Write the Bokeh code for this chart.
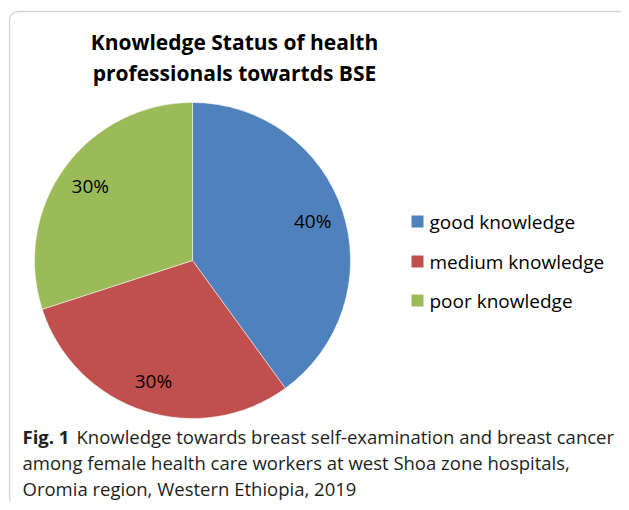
import math
from bokeh.plotting import figure
from bokeh.models import Range1d, BoxAnnotation, ColumnDataSource
from bokeh.core.properties import value
from bokeh.embed import file_html
from bokeh.resources import INLINE

# ---- data ----
categories = ["good knowledge", "medium knowledge", "poor knowledge"]
shares = [40, 30, 30]
colors = ["#4F81BD", "#C0504D", "#9BBB59"]
title_lines = ["Knowledge Status of health", "professionals towartds BSE"]
caption_bold = "Fig. 1"
caption_lines = ["Knowledge towards breast self-examination and breast cancer",
                 "among female health care workers at west Shoa zone hospitals,",
                 "Oromia region, Western Ethiopia, 2019"]

W, H = 621, 502
p = figure(width=W, height=H, output_backend="svg", toolbar_location=None,
           x_range=Range1d(0, W), y_range=Range1d(0, H),
           min_border=0, outline_line_color=None)
p.axis.visible = False
p.grid.visible = False
p.background_fill_color = "white"
p.border_fill_color = "white"

def Y(py):  # image y -> data y
    return H - py

# frame
p.add_layout(BoxAnnotation(left=9, right=634, top=Y(11), bottom=Y(506),
                           fill_alpha=0, line_color="#6d6d6d", line_width=1.3,
                           border_radius=9))

# pie
cx, cy, R = 192, Y(260), 158
total = sum(shares)
starts, ends, lx, ly, labels = [], [], [], [], []
acc = 0
for s in shares:
    a0 = math.pi / 2 - acc / total * 2 * math.pi
    acc += s
    a1 = math.pi / 2 - acc / total * 2 * math.pi
    starts.append(a0); ends.append(a1)
    mid = (a0 + a1) / 2
    lx.append(cx + 0.8 * R * math.cos(mid))
    ly.append(cy + 0.8 * R * math.sin(mid))
    labels.append(f"{round(s / total * 100)}%")

src = ColumnDataSource(dict(start=starts, end=ends, color=colors, cat=categories))
p.wedge(x=cx, y=cy, radius=R, start_angle="start", end_angle="end",
        direction="clock", fill_color="color", line_color="white", line_width=0.5,
        source=src)
p.text(x=lx, y=ly, text=labels, text_font=value("Open Sans"), text_font_size="19px",
       text_color="#000000", text_align="center", text_baseline="middle")

# title
p.text(x=[234, 234], y=[Y(41), Y(72)], text=title_lines, text_font=value("Open Sans"),
       text_font_style="bold", text_font_size="21px", text_color="#000000",
       text_align="center", text_baseline="middle")

# legend
leg_y = [Y(221), Y(261), Y(300)]
p.rect(x=[417] * 3, y=leg_y, width=12, height=12, fill_color=colors, line_color=None)
p.text(x=[429] * 3, y=leg_y, text=categories, text_font=value("Open Sans"),
       text_font_size="19px", text_color="#000000", text_align="left",
       text_baseline="middle")

# caption
cap_y = [Y(436), Y(462), Y(488)]
p.text(x=[22], y=[cap_y[0]], text=[caption_bold], text_font=value("Open Sans"),
       text_font_style="bold", text_font_size="18.5px", text_color="#231f20",
       text_baseline="middle")
p.text(x=[76, 22, 22], y=cap_y, text=caption_lines, text_font=value("Open Sans"),
       text_font_size="18.5px", text_color="#231f20", text_baseline="middle")

open("out.html", "w").write(file_html(p, INLINE))
